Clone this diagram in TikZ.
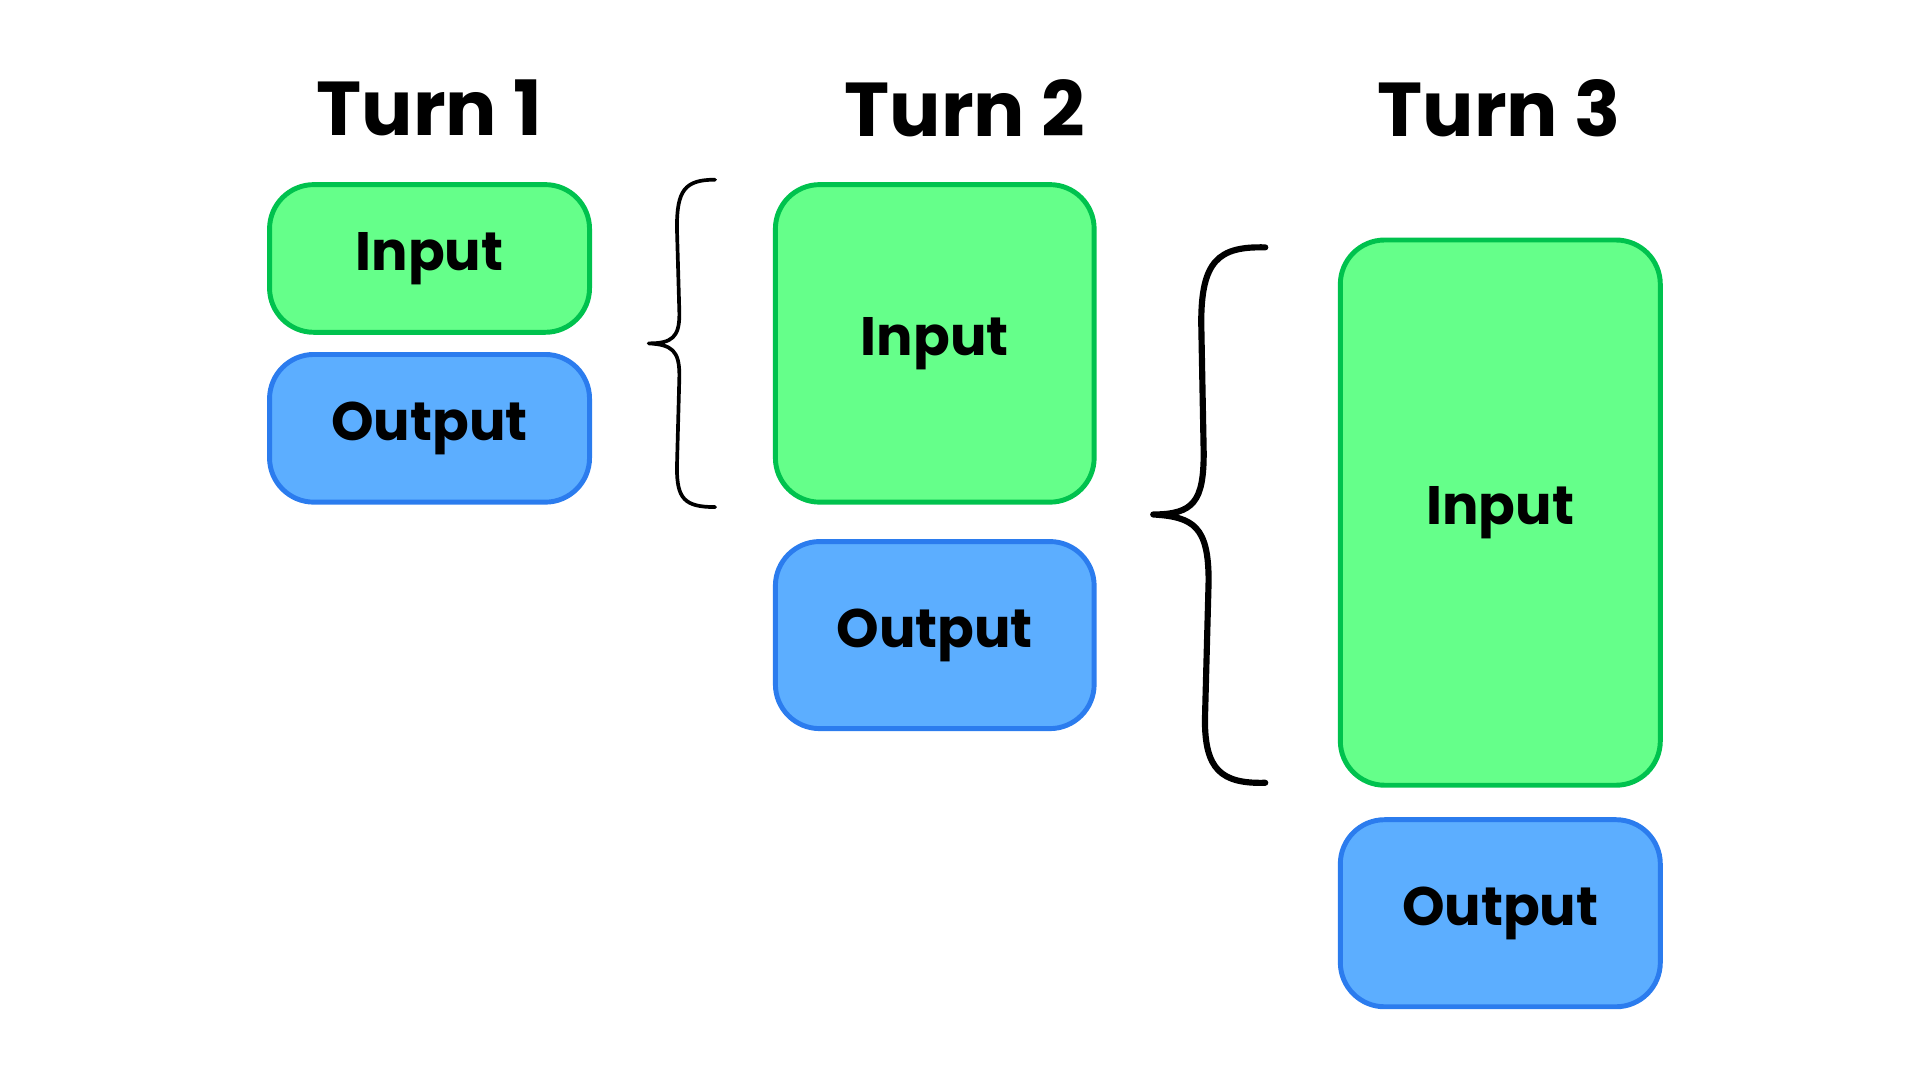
\documentclass[tikz,border=0pt]{standalone}
\usepackage{fontspec}
\setmainfont{Poppins}
\begin{document}
\begin{tikzpicture}[x=1pt,y=-1pt,
 box/.style={draw,line width=4pt,rounded corners=36pt,font=\bfseries\fontsize{44}{50}\selectfont},
 inp/.style={box,fill=gfill,draw=gline},
 outp/.style={box,fill=bfill,draw=bline},
 ttl/.style={font=\bfseries\fontsize{62}{70}\selectfont},
 brace/.style={draw=black,line cap=round,line join=round}]
\definecolor{gfill}{HTML}{65FF8A}\definecolor{gline}{HTML}{00C24E}
\definecolor{bfill}{HTML}{5CAEFF}\definecolor{bline}{HTML}{2B7CEE}
\useasboundingbox (0,0) rectangle (1560,877.5);
\node[ttl] (t1) at (349,88) {Turn 1};
\node[ttl] (t2) at (784,88) {Turn 2};
\node[ttl] (t3) at (1218,88) {Turn 3};
\node[inp,minimum width=260pt,minimum height=120pt] (i1) at (349,210) {Input};
\node[outp,minimum width=260pt,minimum height=120pt] (o1) at (349,348) {Output};
\node[inp,minimum width=259pt,minimum height=258pt] (i2) at (759.5,279) {Input};
\node[outp,minimum width=259pt,minimum height=152pt] (o2) at (759.5,516) {Output};
\node[inp,minimum width=260pt,minimum height=443pt] (i3) at (1219,416.5) {Input};
\node[outp,minimum width=260pt,minimum height=152pt] (o3) at (1219,742) {Output};
\draw[brace,line width=3pt] (581,146) .. controls (556,146) and (550,155) .. (550,185) -- (552,255) .. controls (552,274) and (546,279) .. (527,279)
  .. controls (546,280) and (552,285) .. (552,305) -- (550,380) .. controls (550,405) and (556,412) .. (581,412);
\draw[brace,line width=5pt] (1028,201) .. controls (990,200) and (976,212) .. (976,262) -- (978,368) .. controls (978,407) and (970,418) .. (937,418)
  .. controls (970,420) and (982,428) .. (982,472) -- (979,585) .. controls (979,625) and (992,637) .. (1028,636);
\end{tikzpicture}
\end{document}
